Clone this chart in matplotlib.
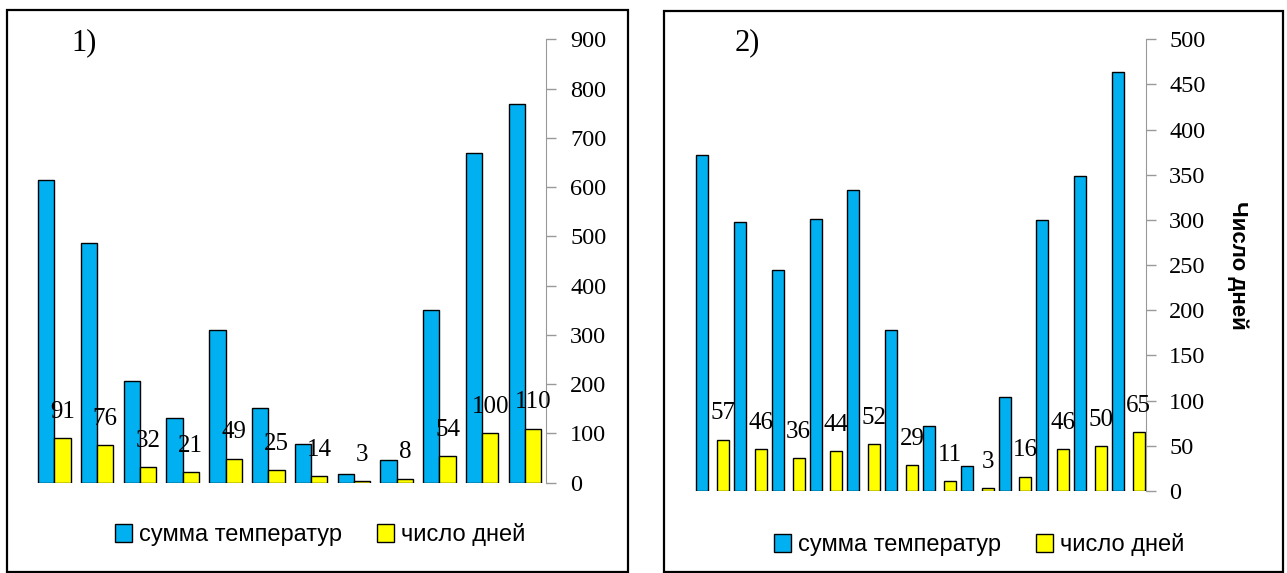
import numpy as np
import matplotlib
matplotlib.use("Agg")
import matplotlib.pyplot as plt
import matplotlib.patches as patches

# panel 1
sum_t1 = [615, 487, 207, 131, 309, 152, 79, 18, 47, 351, 669, 768]
days1 = [91, 76, 32, 21, 49, 25, 14, 3, 8, 54, 100, 110]
yticks1 = [0, 100, 200, 300, 400, 500, 600, 700, 800, 900]

# panel 2
sum_t2 = [372, 298, 245, 301, 333, 178, 72, 28, 104, 300, 349, 464]
days2 = [57, 46, 36, 44, 52, 29, 11, 3, 16, 46, 50, 65]
yticks2 = [0, 50, 100, 150, 200, 250, 300, 350, 400, 450, 500]

LBL_SUM = "сумма температур"
LBL_DAYS = "число дней"
BLUE = "#00B0F0"
YELLOW = "#FFFF00"
SERIF = "Liberation Serif"
SANS = "Liberation Sans"

W, H = 1287, 573
fig = plt.figure(figsize=(W / 100, H / 100), dpi=100)


def box(left, right, top, bottom):
    # pixel box -> figure fraction
    return [left / W, 1 - bottom / H, (right - left) / W, (bottom - top) / H]


def frame(left, right, top, bottom):
    fig.patches.append(patches.Rectangle(
        (left / W, 1 - bottom / H), (right - left) / W, (bottom - top) / H,
        transform=fig.transFigure, fill=False, edgecolor="black", linewidth=1.6))


def panel(rect, blue, yellow, yticks, off_b, off_y, width):
    ax = fig.add_axes(rect)
    x = np.arange(len(blue))
    hb = ax.bar(x + off_b, blue, width, color=BLUE, edgecolor="black", linewidth=1.0)
    hy = ax.bar(x + off_y, yellow, width, color=YELLOW, edgecolor="black", linewidth=1.0)
    for xi, v in zip(x + off_y, yellow):
        ax.annotate(str(v), (xi, v), xytext=(0, 11), textcoords="offset points",
                    ha="center", va="bottom", fontsize=18, family=SERIF, zorder=5)
    ax.set_xlim(-0.5, len(blue) - 0.5)
    ax.set_ylim(yticks[0], yticks[-1])
    ax.set_yticks(yticks)
    ax.yaxis.tick_right()
    ax.tick_params(axis="y", direction="out", length=7, width=1, color="#999999",
                   pad=10, labelsize=17.5)
    for t in ax.get_yticklabels():
        t.set_family(SERIF)
    ax.set_xticks([])
    for s in ["top", "left", "bottom"]:
        ax.spines[s].set_visible(False)
    ax.spines["right"].set_color("#999999")
    ax.patch.set_alpha(0)
    return hb, hy


frame(7, 628, 10, 572)
frame(664, 1283, 11, 572)

hb, hy = panel(box(33, 546.4, 39.3, 482.7), sum_t1, days1, yticks1, -0.19, 0.19, 0.38)
fig.text(71 / W, 1 - 43 / H, "1)", family=SERIF, fontsize=22, va="center")
fig.legend([hb, hy], [LBL_SUM, LBL_DAYS], loc="center", bbox_to_anchor=(320 / W, 1 - 535 / H),
           ncol=2, frameon=False, handlelength=0.7, handleheight=0.8, handletextpad=0.3,
           columnspacing=1.5, prop={"family": SANS, "size": 17})

hb, hy = panel(box(692, 1145.6, 39.3, 491), sum_t2, days2, yticks2, -0.23, 0.32, 0.32)
fig.text(735 / W, 1 - 43 / H, "2)", family=SERIF, fontsize=22, va="center")
fig.legend([hb, hy], [LBL_SUM, LBL_DAYS], loc="center", bbox_to_anchor=(979 / W, 1 - 545 / H),
           ncol=2, frameon=False, handlelength=0.7, handleheight=0.8, handletextpad=0.3,
           columnspacing=1.5, prop={"family": SANS, "size": 17})
fig.text(1238 / W, 1 - 265 / H, "Число дней", rotation=270, ha="center", va="center",
         fontsize=16, fontweight="bold", family=SANS)

fig.savefig("out.png", dpi=100, facecolor="white")
